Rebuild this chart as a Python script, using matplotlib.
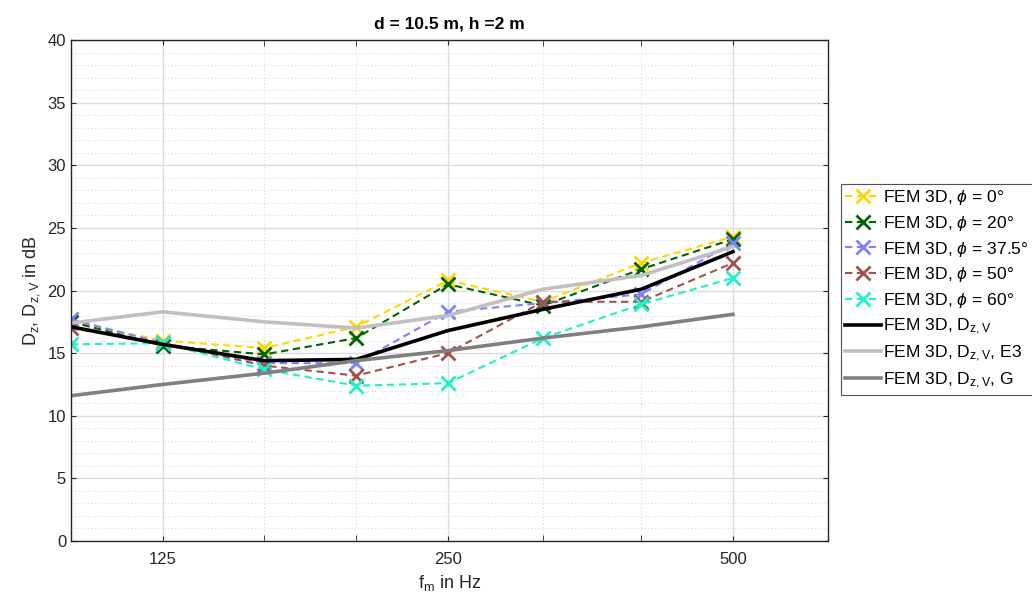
import matplotlib
matplotlib.use("Agg")
import matplotlib.pyplot as plt
from matplotlib.ticker import FixedLocator, NullFormatter, FixedFormatter, MultipleLocator

plt.rcParams['font.family'] = ['Liberation Sans', 'DejaVu Sans']
plt.rcParams['mathtext.fontset'] = 'custom'
plt.rcParams['mathtext.rm'] = 'Liberation Sans'
plt.rcParams['mathtext.it'] = 'Liberation Sans:italic'

# third-octave band centre frequencies (Hz)
freqs = [100, 125, 160, 200, 250, 315, 400, 500]

# level differences in dB
phi_0 = [17.5, 16.0, 15.4, 17.1, 20.8, 19.1, 22.2, 24.3]
phi_20 = [17.5, 15.6, 14.9, 16.2, 20.5, 18.8, 21.7, 24.1]
phi_37_5 = [17.7, 15.8, 14.2, 14.2, 18.3, 19.0, 19.7, 23.8]
phi_50 = [17.0, 15.8, 14.0, 13.2, 15.0, 19.1, 19.1, 22.2]
phi_60 = [15.7, 15.8, 13.7, 12.4, 12.6, 16.2, 18.9, 21.0]
dzv = [17.1, 15.7, 14.4, 14.5, 16.8, 18.5, 20.1, 23.1]
dzv_e3 = [17.4, 18.3, 17.5, 17.0, 18.0, 20.1, 21.2, 23.5]
dzv_g = [11.6, 12.5, 13.4, 14.4, 15.2, 16.2, 17.1, 18.1]

major_ticks = [125, 250, 500]
minor_ticks = [160, 200, 315, 400]
tick_labels = ['125', '250', '500']

dashed = [
    (phi_0, '#FFD700', r'FEM 3D, $\phi$ = 0°'),
    (phi_20, '#006400', r'FEM 3D, $\phi$ = 20°'),
    (phi_37_5, '#8080FF', r'FEM 3D, $\phi$ = 37.5°'),
    (phi_50, '#A0524D', r'FEM 3D, $\phi$ = 50°'),
    (phi_60, '#1EF2C6', r'FEM 3D, $\phi$ = 60°'),
]
solid = [
    (dzv, '#000000', r'FEM 3D, D$_{\mathrm{z,V}}$'),
    (dzv_e3, '#C0C0C0', r'FEM 3D, D$_{\mathrm{z,V}}$, E3'),
    (dzv_g, '#808080', r'FEM 3D, D$_{\mathrm{z,V}}$, G'),
]

fig = plt.figure(figsize=(10.32, 6.10), dpi=100)
ax = fig.add_axes([0.0688, 0.1131, 0.7335, 0.8213])

for vals, col, lab in dashed:
    ax.plot(freqs, vals, linestyle=(0, (3.5, 2.2)), color=col, linewidth=1.5,
            marker='x', markersize=10, markeredgewidth=2, label=lab)
for vals, col, lab in solid:
    ax.plot(freqs, vals, linestyle='-', color=col, linewidth=2.6, label=lab)

ax.set_xscale('log')
ax.set_xlim(100, 630)
ax.set_ylim(0, 40)
ax.xaxis.set_major_locator(FixedLocator(major_ticks))
ax.xaxis.set_major_formatter(FixedFormatter(tick_labels))
ax.xaxis.set_minor_locator(FixedLocator(minor_ticks))
ax.xaxis.set_minor_formatter(NullFormatter())
ax.yaxis.set_major_locator(MultipleLocator(5))
ax.yaxis.set_minor_locator(MultipleLocator(1))

ax.tick_params(which='both', direction='in', top=True, right=True,
               colors='#262626', labelsize=12)
ax.tick_params(axis='x', which='minor', length=4)
ax.tick_params(axis='y', which='minor', length=0)
ax.tick_params(axis='x', which='major', pad=8)

ax.grid(True, which='major', color='#DCDCDC', linewidth=1.0, linestyle='-')
ax.grid(True, which='minor', color='#DCDCDC', linewidth=0.8, linestyle=(0, (1, 2)))
ax.set_axisbelow(True)
for sp in ax.spines.values():
    sp.set_color('#262626')
    sp.set_linewidth(1.0)

ax.set_title('d = 10.5 m, h =2 m', fontsize=12.5, fontweight='bold', pad=8)
ax.set_xlabel(r'f$_{\mathrm{m}}$ in Hz', fontsize=13, color='#262626')
ax.set_ylabel(r'D$_{\mathrm{z}}$, D$_{\mathrm{z,V}}$ in dB', fontsize=13, color='#262626')

leg = ax.legend(loc='center left', bbox_to_anchor=(1.017, 0.502), fontsize=12.6,
                frameon=True, fancybox=False, edgecolor='#262626',
                handlelength=2.05, handletextpad=0.12, borderpad=0.25,
                labelspacing=0.38, borderaxespad=0.0)
leg.get_frame().set_linewidth(0.8)

fig.savefig('out.png', dpi=100)
